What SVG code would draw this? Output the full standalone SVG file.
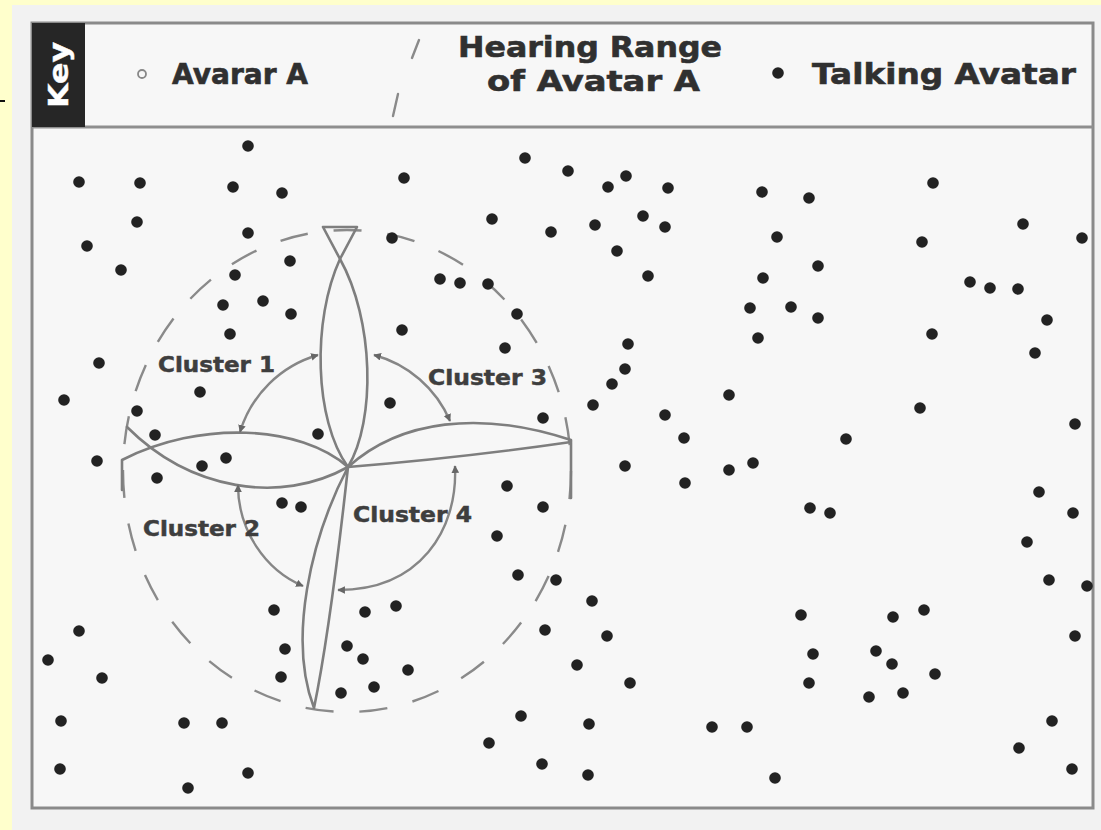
<svg xmlns="http://www.w3.org/2000/svg" width="1101" height="830" viewBox="0 0 1101 830">
<defs>
<style>
.dot{fill:#222}
.lobe{fill:none;stroke:#7e7e7e;stroke-width:2.6;stroke-linejoin:round;stroke-linecap:round}
.arc{fill:none;stroke:#868686;stroke-width:2.4;marker-start:url(#ah);marker-end:url(#ah)}
.lbl{font-family:"DejaVu Sans","Liberation Sans",sans-serif;font-weight:bold;fill:#3e3e3e;stroke:#3e3e3e;stroke-width:0.5;font-size:21px}
.hdr{font-family:"DejaVu Sans","Liberation Sans",sans-serif;font-weight:bold;fill:#303030;stroke:#303030;stroke-width:0.6;font-size:28px}
.dash{stroke:#8a8a8a;stroke-width:2.4;stroke-linecap:round}
</style>
<marker id="ah" viewBox="0 0 10 10" refX="9" refY="5" markerWidth="3.2" markerHeight="3.2" orient="auto-start-reverse"><path d="M0,0 L10,5 L0,10 z" fill="#666"/></marker>
</defs>
<rect width="1101" height="830" fill="#FFFFCC"/>
<rect x="12" y="5" width="1089" height="825" fill="#f2f2f2"/>
<line x1="0" y1="101" x2="5" y2="101" stroke="#111" stroke-width="2"/>
<g id="frame">
<rect x="32" y="23" width="1061" height="785" fill="#f7f7f7" stroke="#8a8a8a" stroke-width="3"/>
<line x1="32" y1="127" x2="1093" y2="127" stroke="#8f8f8f" stroke-width="3"/>
</g>
<g id="key">
<rect x="32" y="23" width="53" height="104" fill="#262626"/>
<text class="hdr" transform="translate(68,75) rotate(-90)" text-anchor="middle" textLength="66" lengthAdjust="spacingAndGlyphs" style="fill:#fff;stroke:#fff;stroke-width:0.4;font-size:26px">Key</text>
<circle cx="142" cy="74" r="4" fill="#f7f7f7" stroke="#888" stroke-width="1.8"/>
<text class="hdr" x="172" y="84" textLength="136" lengthAdjust="spacingAndGlyphs">Avarar A</text>
<line class="dash" x1="412" y1="58" x2="419" y2="40"/>
<line class="dash" x1="393" y1="116" x2="398" y2="94"/>
<text class="hdr" x="458" y="57" textLength="264" lengthAdjust="spacingAndGlyphs">Hearing Range</text>
<text class="hdr" x="487" y="91" textLength="213" lengthAdjust="spacingAndGlyphs">of Avatar A</text>
<circle class="dot" cx="778" cy="73" r="5.8"/>
<text class="hdr" x="812" y="84" textLength="264" lengthAdjust="spacingAndGlyphs">Talking Avatar</text>
</g>
<g id="hearing-range">
<ellipse cx="347" cy="471" rx="224" ry="241" fill="none" stroke="#8a8a8a" stroke-width="2.4" pathLength="27" stroke-dasharray="0.52 0.48"/>
</g>
<g id="lobes">
<path class="lobe" d="M348,467 C314,420 312,320 340,259 M348,467 C376,420 374,320 340,259"/>
<path class="lobe" d="M323,227 L357,227 L340,259 Z"/>
<path class="lobe" d="M348,467 C310,540 288,640 314,708 M348,467 C340,540 328,640 314,708"/>
<path class="lobe" d="M348,467 C300,425 200,420 122,460 L122,490 M348,467 C280,505 190,490 127,427"/>
<path class="lobe" d="M348,467 C400,420 480,410 571,440 L571,498 M348,467 Q460,458 571,442"/>
</g>
<g id="clusters">
<path class="arc" d="M240,432 A115,115 0 0 1 318,355"/>
<path class="arc" d="M374,355 A115,115 0 0 1 450,421"/>
<path class="arc" d="M238,485 C238,530 265,570 303,586"/>
<path class="arc" d="M455,466 C458,530 420,590 338,590"/>
<text class="lbl" x="158" y="372" textLength="117" lengthAdjust="spacingAndGlyphs">Cluster 1</text>
<text class="lbl" x="428" y="385" textLength="119" lengthAdjust="spacingAndGlyphs">Cluster 3</text>
<text class="lbl" x="143" y="536" textLength="117" lengthAdjust="spacingAndGlyphs">Cluster 2</text>
<text class="lbl" x="353" y="522" textLength="119" lengthAdjust="spacingAndGlyphs">Cluster 4</text>
</g>
<g id="talking-avatars">
<circle class="dot" cx="248" cy="146" r="5.8"/><circle class="dot" cx="79" cy="182" r="5.8"/><circle class="dot" cx="140" cy="183" r="5.8"/><circle class="dot" cx="233" cy="187" r="5.8"/><circle class="dot" cx="282" cy="193" r="5.8"/><circle class="dot" cx="404" cy="178" r="5.8"/><circle class="dot" cx="525" cy="158" r="5.8"/><circle class="dot" cx="568" cy="171" r="5.8"/><circle class="dot" cx="608" cy="187" r="5.8"/><circle class="dot" cx="626" cy="176" r="5.8"/>
<circle class="dot" cx="668" cy="188" r="5.8"/><circle class="dot" cx="762" cy="192" r="5.8"/><circle class="dot" cx="809" cy="198" r="5.8"/><circle class="dot" cx="933" cy="183" r="5.8"/><circle class="dot" cx="137" cy="222" r="5.8"/><circle class="dot" cx="248" cy="233" r="5.8"/><circle class="dot" cx="492" cy="219" r="5.8"/><circle class="dot" cx="551" cy="232" r="5.8"/><circle class="dot" cx="595" cy="225" r="5.8"/><circle class="dot" cx="643" cy="216" r="5.8"/>
<circle class="dot" cx="665" cy="227" r="5.8"/><circle class="dot" cx="617" cy="251" r="5.8"/><circle class="dot" cx="1023" cy="224" r="5.8"/><circle class="dot" cx="1082" cy="238" r="5.8"/><circle class="dot" cx="87" cy="246" r="5.8"/><circle class="dot" cx="121" cy="270" r="5.8"/><circle class="dot" cx="290" cy="261" r="5.8"/><circle class="dot" cx="235" cy="275" r="5.8"/><circle class="dot" cx="922" cy="242" r="5.8"/><circle class="dot" cx="777" cy="237" r="5.8"/>
<circle class="dot" cx="392" cy="238" r="5.8"/><circle class="dot" cx="440" cy="279" r="5.8"/><circle class="dot" cx="460" cy="283" r="5.8"/><circle class="dot" cx="488" cy="284" r="5.8"/><circle class="dot" cx="648" cy="276" r="5.8"/><circle class="dot" cx="763" cy="278" r="5.8"/><circle class="dot" cx="818" cy="266" r="5.8"/><circle class="dot" cx="970" cy="282" r="5.8"/><circle class="dot" cx="990" cy="288" r="5.8"/><circle class="dot" cx="1018" cy="289" r="5.8"/>
<circle class="dot" cx="223" cy="305" r="5.8"/><circle class="dot" cx="263" cy="301" r="5.8"/><circle class="dot" cx="291" cy="314" r="5.8"/><circle class="dot" cx="230" cy="334" r="5.8"/><circle class="dot" cx="517" cy="314" r="5.8"/><circle class="dot" cx="750" cy="308" r="5.8"/><circle class="dot" cx="791" cy="307" r="5.8"/><circle class="dot" cx="818" cy="318" r="5.8"/><circle class="dot" cx="1047" cy="320" r="5.8"/><circle class="dot" cx="402" cy="330" r="5.8"/>
<circle class="dot" cx="758" cy="338" r="5.8"/><circle class="dot" cx="932" cy="334" r="5.8"/><circle class="dot" cx="628" cy="344" r="5.8"/><circle class="dot" cx="1035" cy="353" r="5.8"/><circle class="dot" cx="99" cy="363" r="5.8"/><circle class="dot" cx="505" cy="348" r="5.8"/><circle class="dot" cx="625" cy="369" r="5.8"/><circle class="dot" cx="612" cy="384" r="5.8"/><circle class="dot" cx="593" cy="405" r="5.8"/><circle class="dot" cx="64" cy="400" r="5.8"/>
<circle class="dot" cx="137" cy="411" r="5.8"/><circle class="dot" cx="200" cy="392" r="5.8"/><circle class="dot" cx="390" cy="403" r="5.8"/><circle class="dot" cx="543" cy="418" r="5.8"/><circle class="dot" cx="665" cy="415" r="5.8"/><circle class="dot" cx="729" cy="395" r="5.8"/><circle class="dot" cx="920" cy="408" r="5.8"/><circle class="dot" cx="1075" cy="424" r="5.8"/><circle class="dot" cx="155" cy="435" r="5.8"/><circle class="dot" cx="318" cy="434" r="5.8"/>
<circle class="dot" cx="684" cy="438" r="5.8"/><circle class="dot" cx="846" cy="439" r="5.8"/><circle class="dot" cx="97" cy="461" r="5.8"/><circle class="dot" cx="157" cy="478" r="5.8"/><circle class="dot" cx="202" cy="466" r="5.8"/><circle class="dot" cx="226" cy="458" r="5.8"/><circle class="dot" cx="625" cy="466" r="5.8"/><circle class="dot" cx="729" cy="470" r="5.8"/><circle class="dot" cx="753" cy="463" r="5.8"/><circle class="dot" cx="685" cy="483" r="5.8"/>
<circle class="dot" cx="1039" cy="492" r="5.8"/><circle class="dot" cx="507" cy="486" r="5.8"/><circle class="dot" cx="543" cy="507" r="5.8"/><circle class="dot" cx="282" cy="503" r="5.8"/><circle class="dot" cx="301" cy="507" r="5.8"/><circle class="dot" cx="810" cy="508" r="5.8"/><circle class="dot" cx="830" cy="513" r="5.8"/><circle class="dot" cx="1073" cy="513" r="5.8"/><circle class="dot" cx="497" cy="536" r="5.8"/><circle class="dot" cx="1027" cy="542" r="5.8"/>
<circle class="dot" cx="518" cy="575" r="5.8"/><circle class="dot" cx="556" cy="580" r="5.8"/><circle class="dot" cx="1049" cy="580" r="5.8"/><circle class="dot" cx="1087" cy="586" r="5.8"/><circle class="dot" cx="592" cy="601" r="5.8"/><circle class="dot" cx="274" cy="610" r="5.8"/><circle class="dot" cx="365" cy="612" r="5.8"/><circle class="dot" cx="396" cy="606" r="5.8"/><circle class="dot" cx="801" cy="615" r="5.8"/><circle class="dot" cx="893" cy="617" r="5.8"/>
<circle class="dot" cx="924" cy="610" r="5.8"/><circle class="dot" cx="79" cy="631" r="5.8"/><circle class="dot" cx="545" cy="630" r="5.8"/><circle class="dot" cx="607" cy="636" r="5.8"/><circle class="dot" cx="1075" cy="636" r="5.8"/><circle class="dot" cx="48" cy="660" r="5.8"/><circle class="dot" cx="285" cy="649" r="5.8"/><circle class="dot" cx="347" cy="646" r="5.8"/><circle class="dot" cx="363" cy="659" r="5.8"/><circle class="dot" cx="408" cy="670" r="5.8"/>
<circle class="dot" cx="577" cy="665" r="5.8"/><circle class="dot" cx="813" cy="654" r="5.8"/><circle class="dot" cx="876" cy="651" r="5.8"/><circle class="dot" cx="892" cy="664" r="5.8"/><circle class="dot" cx="935" cy="674" r="5.8"/><circle class="dot" cx="102" cy="678" r="5.8"/><circle class="dot" cx="281" cy="677" r="5.8"/><circle class="dot" cx="374" cy="687" r="5.8"/><circle class="dot" cx="341" cy="693" r="5.8"/><circle class="dot" cx="630" cy="683" r="5.8"/>
<circle class="dot" cx="809" cy="683" r="5.8"/><circle class="dot" cx="869" cy="697" r="5.8"/><circle class="dot" cx="903" cy="693" r="5.8"/><circle class="dot" cx="61" cy="721" r="5.8"/><circle class="dot" cx="184" cy="723" r="5.8"/><circle class="dot" cx="222" cy="723" r="5.8"/><circle class="dot" cx="521" cy="716" r="5.8"/><circle class="dot" cx="589" cy="724" r="5.8"/><circle class="dot" cx="712" cy="727" r="5.8"/><circle class="dot" cx="747" cy="727" r="5.8"/>
<circle class="dot" cx="1052" cy="721" r="5.8"/><circle class="dot" cx="489" cy="743" r="5.8"/><circle class="dot" cx="542" cy="764" r="5.8"/><circle class="dot" cx="1019" cy="748" r="5.8"/><circle class="dot" cx="60" cy="769" r="5.8"/><circle class="dot" cx="188" cy="788" r="5.8"/><circle class="dot" cx="248" cy="773" r="5.8"/><circle class="dot" cx="588" cy="775" r="5.8"/><circle class="dot" cx="775" cy="778" r="5.8"/><circle class="dot" cx="1072" cy="769" r="5.8"/>
</g>
</svg>
